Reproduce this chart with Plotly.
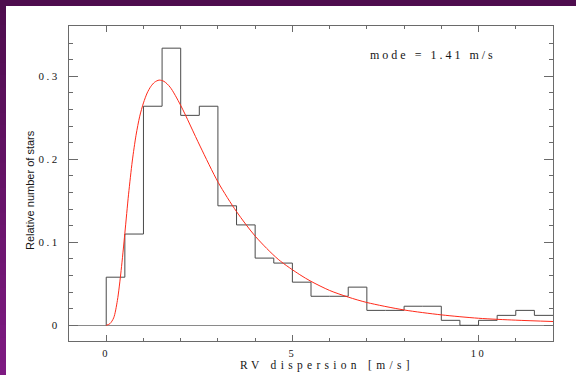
import plotly.graph_objects as go

# Histogram of RV dispersion (bin edges 0..12 m/s, width 0.5), relative number of stars
bin_edges = [0.0, 0.5, 1.0, 1.5, 2.0, 2.5, 3.0, 3.5, 4.0, 4.5, 5.0, 5.5, 6.0,
             6.5, 7.0, 7.5, 8.0, 8.5, 9.0, 9.5, 10.0, 10.5, 11.0, 11.5, 12.0]
bin_values = [0.058, 0.110, 0.264, 0.334, 0.253, 0.264, 0.144, 0.121, 0.081,
              0.075, 0.052, 0.035, 0.035, 0.046, 0.018, 0.018, 0.023, 0.023,
              0.006, 0.000, 0.006, 0.012, 0.018, 0.012]

# Fitted distribution curve
fit_x = [0.0, 0.1, 0.2, 0.3, 0.4, 0.5, 0.6, 0.7, 0.8, 0.9, 1.0, 1.1, 1.2,
         1.3, 1.42, 1.55, 1.716, 2.0, 2.52, 3.01, 3.5, 4.01, 4.62, 5.2, 5.5,
         6.0, 6.5, 7.0, 8.0, 9.0, 10.0, 11.0, 12.0]
fit_y = [0.0, 0.002, 0.009, 0.030, 0.066, 0.111, 0.158, 0.198, 0.229, 0.252,
         0.268, 0.280, 0.288, 0.293, 0.2955, 0.294, 0.287, 0.265, 0.216,
         0.172, 0.137, 0.107, 0.0795, 0.0610, 0.0530, 0.0420, 0.0340, 0.0275,
         0.0185, 0.0126, 0.0085, 0.0062, 0.0046]

x_ticks = [0, 5, 10]
x_ticklabels = ["0", "5", "10"]
y_ticks = [0.0, 0.1, 0.2, 0.3]
y_ticklabels = ["0", "0.1", "0.2", "0.3"]

mode_text = "mode = 1.41 m/s"
x_title = "RV dispersion [m/s]"
y_title = "Relative number of stars"

W, H = 576, 375
L, R, T, B = 69, 23, 26, 34
PW, PH = W - L - R, H - T - B
TEXT = "#151515"
FRAME = "#6a6a6a"


def spaced(s, ls):
    return f'<span style="letter-spacing:{ls}px">{s}</span>'


def px_to_paper(px, py):
    return (px - L) / PW, (H - B - py) / PH


step_x = list(bin_edges)
step_y = list(bin_values) + [bin_values[-1]]

fig = go.Figure()
fig.add_trace(go.Scatter(
    x=[bin_edges[0]] + step_x, y=[0.0] + step_y,
    mode="lines", line=dict(color="#4a4a4a", width=1, shape="hv"),
    hoverinfo="skip", showlegend=False))
fig.add_trace(go.Scatter(
    x=fit_x, y=fit_y, mode="lines",
    line=dict(color="#ff2a1a", width=1, shape="spline", smoothing=0.8),
    hoverinfo="skip", showlegend=False))

axis_common = dict(
    showline=True, linecolor=FRAME, linewidth=1, mirror="allticks",
    ticks="inside", tickcolor=FRAME, tickwidth=1, showgrid=False,
)

fig.update_xaxes(
    range=[-1, 12], tickmode="array", tickvals=x_ticks,
    ticktext=[spaced(t, 2.5) for t in x_ticklabels], ticklen=6,
    tickfont=dict(family="Liberation Serif", size=10.5, color=TEXT),
    minor=dict(ticks="inside", dtick=1, tick0=0, ticklen=3, tickcolor=FRAME),
    zeroline=False, ticklabelstandoff=2, **axis_common)
fig.update_yaxes(
    range=[-0.0189, 0.3607], tickmode="array", tickvals=y_ticks,
    ticktext=[spaced(t, 2.5) for t in y_ticklabels], ticklen=9,
    tickfont=dict(family="Liberation Serif", size=11, color=TEXT),
    minor=dict(ticks="inside", dtick=0.02, tick0=0, ticklen=4, tickcolor=FRAME),
    zeroline=True, zerolinecolor="#8a8a8a", zerolinewidth=1,
    ticklabelstandoff=6, **axis_common)

annotations = []
ax, ay = px_to_paper(433, 55)
annotations.append(dict(x=ax, y=ay, xref="paper", yref="paper",
                        text=spaced(mode_text, 3), showarrow=False,
                        xanchor="center", yanchor="middle",
                        font=dict(family="Liberation Serif", size=12, color=TEXT)))
ax, ay = px_to_paper(327, 365)
annotations.append(dict(x=ax, y=ay, xref="paper", yref="paper",
                        text=spaced(x_title, 4.3), showarrow=False,
                        xanchor="center", yanchor="middle", borderpad=0,
                        font=dict(family="Liberation Serif", size=11.5, color=TEXT)))
ax, ay = px_to_paper(30, 190)
annotations.append(dict(x=ax, y=ay, xref="paper", yref="paper",
                        text=y_title, showarrow=False, textangle=-90,
                        xanchor="center", yanchor="middle",
                        font=dict(family="Liberation Sans", size=11, color=TEXT)))

# Slide frame: dark purple band on top, gradient band down the left side
shapes = []
x0, y0 = px_to_paper(0, 0)
x1, y1 = px_to_paper(W, 6)
shapes.append(dict(type="rect", xref="paper", yref="paper", x0=x0, x1=x1,
                   y0=y1, y1=y0, fillcolor="rgb(78,13,78)", line_width=0))
n_strips = 30
c_top = (78, 13, 78)
c_bot = (126, 26, 130)
for i in range(n_strips):
    f = i / (n_strips - 1)
    col = tuple(round(c_top[k] + (c_bot[k] - c_top[k]) * f) for k in range(3))
    py0 = i * H / n_strips
    py1 = (i + 1) * H / n_strips + 0.5
    sx0, sy0 = px_to_paper(0, py0)
    sx1, sy1 = px_to_paper(6, py1)
    shapes.append(dict(type="rect", xref="paper", yref="paper", x0=sx0, x1=sx1,
                       y0=sy1, y1=sy0, fillcolor=f"rgb{col}", line_width=0))

fig.update_layout(
    width=W, height=H, autosize=False,
    margin=dict(l=L, r=R, t=T, b=B, pad=0),
    paper_bgcolor="white", plot_bgcolor="white",
    annotations=annotations, shapes=shapes, showlegend=False,
)

fig.write_html("out.html")
